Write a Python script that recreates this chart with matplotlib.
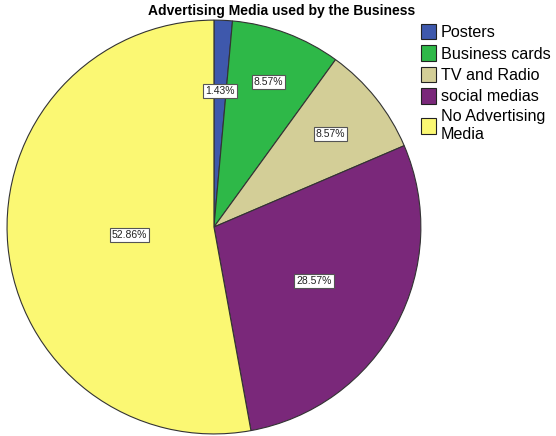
import matplotlib.pyplot as plt
import numpy as np

media = ["Posters", "Business cards", "TV and Radio", "social medias",
         "No Advertising\nMedia"]
percents = [1.43, 8.57, 8.57, 28.57, 52.86]
colors = ['#3e58ac', '#2eb848', '#d3ce97', '#7a287a', '#fbf873']
# how far out along the radius each percentage box sits
label_r = [0.66, 0.75, 0.72, 0.55, 0.41]

plt.rcParams['font.family'] = ['Liberation Sans', 'DejaVu Sans']

fig = plt.figure(figsize=(5.56, 4.36), dpi=100)
ax = fig.add_axes([0.0108, 0.0023, 0.748, 0.954])

wedges, _ = ax.pie(percents, colors=colors, startangle=90, counterclock=False,
                   radius=1.0, wedgeprops=dict(edgecolor='#333333', linewidth=0.8))
ax.set_xlim(-1.005, 1.005)
ax.set_ylim(-1.005, 1.005)
ax.set_aspect('equal')

for w, p, r in zip(wedges, percents, label_r):
    mid = np.deg2rad((w.theta1 + w.theta2) / 2)
    ax.text(r * np.cos(mid), r * np.sin(mid), "%.2f%%" % p, fontsize=7.5,
            ha='center', va='center', color='#222222',
            bbox=dict(boxstyle='square,pad=0.2', fc='white', ec='#555555', lw=0.8))

fig.text(0.507, 0.975, "Advertising Media used by the Business", ha='center',
         va='center', fontsize=10, fontweight='bold')

leg = fig.legend(wedges, media, loc='upper left', bbox_to_anchor=(0.758, 0.945),
                 frameon=False, fontsize=11.6, handlelength=0.92, handleheight=1.1,
                 handletextpad=0.3, labelspacing=0.32, borderaxespad=0,
                 borderpad=0)
for h in leg.legend_handles:
    h.set_edgecolor('#222222')

fig.savefig("out.png", dpi=100)
